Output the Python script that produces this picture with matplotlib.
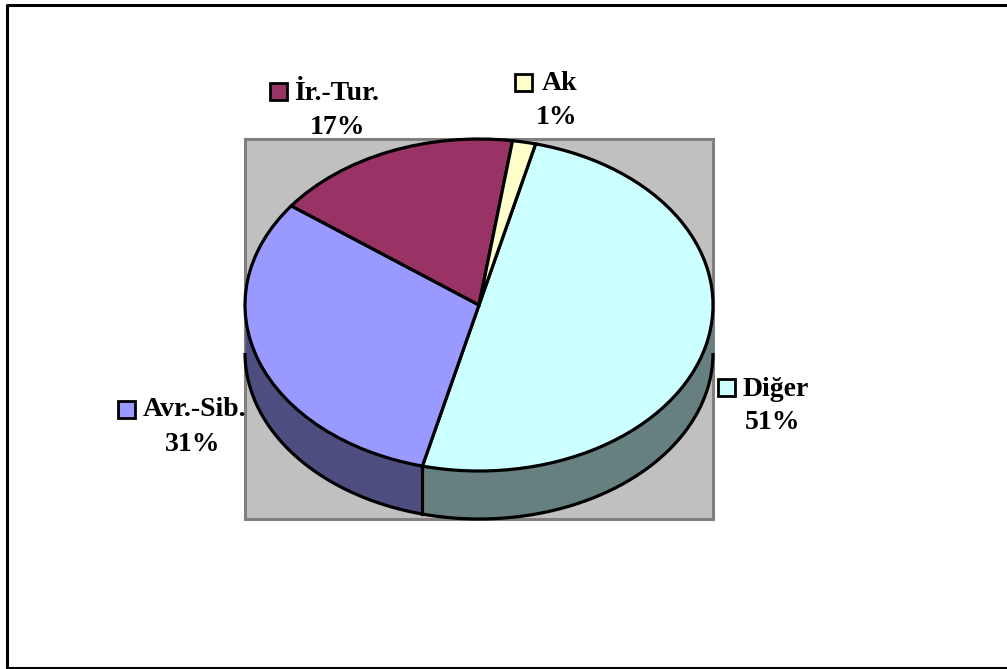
import numpy as np
import matplotlib
matplotlib.use("Agg")
import matplotlib.pyplot as plt
from matplotlib.patches import Rectangle

# slices clockwise, starting from the Ak / Diger boundary
names = ["Diğer", "Avr.-Sib.", "İr.-Tur.", "Ak"]
shares = [50.0, 31.3, 17.1, 1.6]
percent_labels = ["51%", "31%", "17%", "1%"]

top_colors = ["#ccffff", "#9999ff", "#993366", "#ffffcc"]
side_colors = ["#668080", "#4d4d80", "#4d1a33", "#808066"]

W, H = 1007, 669
START = 76
DEPTH = 48 / 166

plt.rcParams["font.family"] = ["Liberation Serif"]

fig = plt.figure(figsize=(W / 100, H / 100), dpi=100, facecolor="white")

# plot area in pixels: x 245-713, y 139-519, circle squashed to 234 x 166
ax = fig.add_axes([245 / W, 1 - 519 / H, 468 / W, 380 / H])
ax.pie(shares, colors=top_colors, startangle=START, counterclock=False, radius=1,
       wedgeprops={"edgecolor": "black", "linewidth": 2.3, "zorder": 5, "clip_on": False})
ax.set_aspect("auto")
ax.set_xlim(-1, 1)
ax.set_ylim(1 - 380 / 166, 1)
ax.set_frame_on(True)
ax.set_facecolor("#c0c0c0")
for s in ax.spines.values():
    s.set_color("#808080")
    s.set_linewidth(2.2)

# side wall of the pie, only the part of each slice on the lower half
edges = START - 360 * np.cumsum([0] + shares) / sum(shares)
for i in range(len(shares)):
    a1 = min(edges[i], 0)
    a2 = max(edges[i + 1], -180)
    if a1 <= a2:
        continue
    t = np.radians(np.linspace(a1, a2, 200))
    x = np.cos(t)
    y = np.sin(t)
    ax.fill_between(x, y, y - DEPTH, color=side_colors[i], linewidth=0, zorder=3, clip_on=False)
    ax.plot(x, y - DEPTH, color="black", lw=2.3, zorder=4, clip_on=False, solid_capstyle="butt")
    if a1 < 0:
        ax.plot([x[0], x[0]], [y[0], y[0] - DEPTH], color="black", lw=2.3, zorder=4, clip_on=False)

# overlay in pixel coordinates for the frame and the labels
over = fig.add_axes([0, 0, 1, 1], facecolor="none")
over.set_xlim(0, W)
over.set_ylim(H, 0)
over.axis("off")
over.plot([7, 7, W], [H, 5, 5], color="black", lw=2.2, clip_on=False)
over.plot([7, W], [668, 668], color="black", lw=2.2, clip_on=False)

# key x, key y, name x, name baseline, percent centre x, percent baseline
label_pos = [
    (718, 379, 743, 396, 773, 429),
    (118, 401, 143, 416, 192.5, 451),
    (270, 83, 294, 100, 338, 134),
    (515, 74, 542, 90, 557, 124),
]
for i, (kx, ky, nx, ny, px, py) in enumerate(label_pos):
    over.add_patch(Rectangle((kx, ky), 17, 17, facecolor=top_colors[i], edgecolor="black", lw=2))
    over.text(nx, ny, names[i], fontsize=20, fontweight="bold", ha="left", va="baseline")
    over.text(px, py, percent_labels[i], fontsize=20, fontweight="bold", ha="center", va="baseline")

fig.savefig("out.png", dpi=100)
